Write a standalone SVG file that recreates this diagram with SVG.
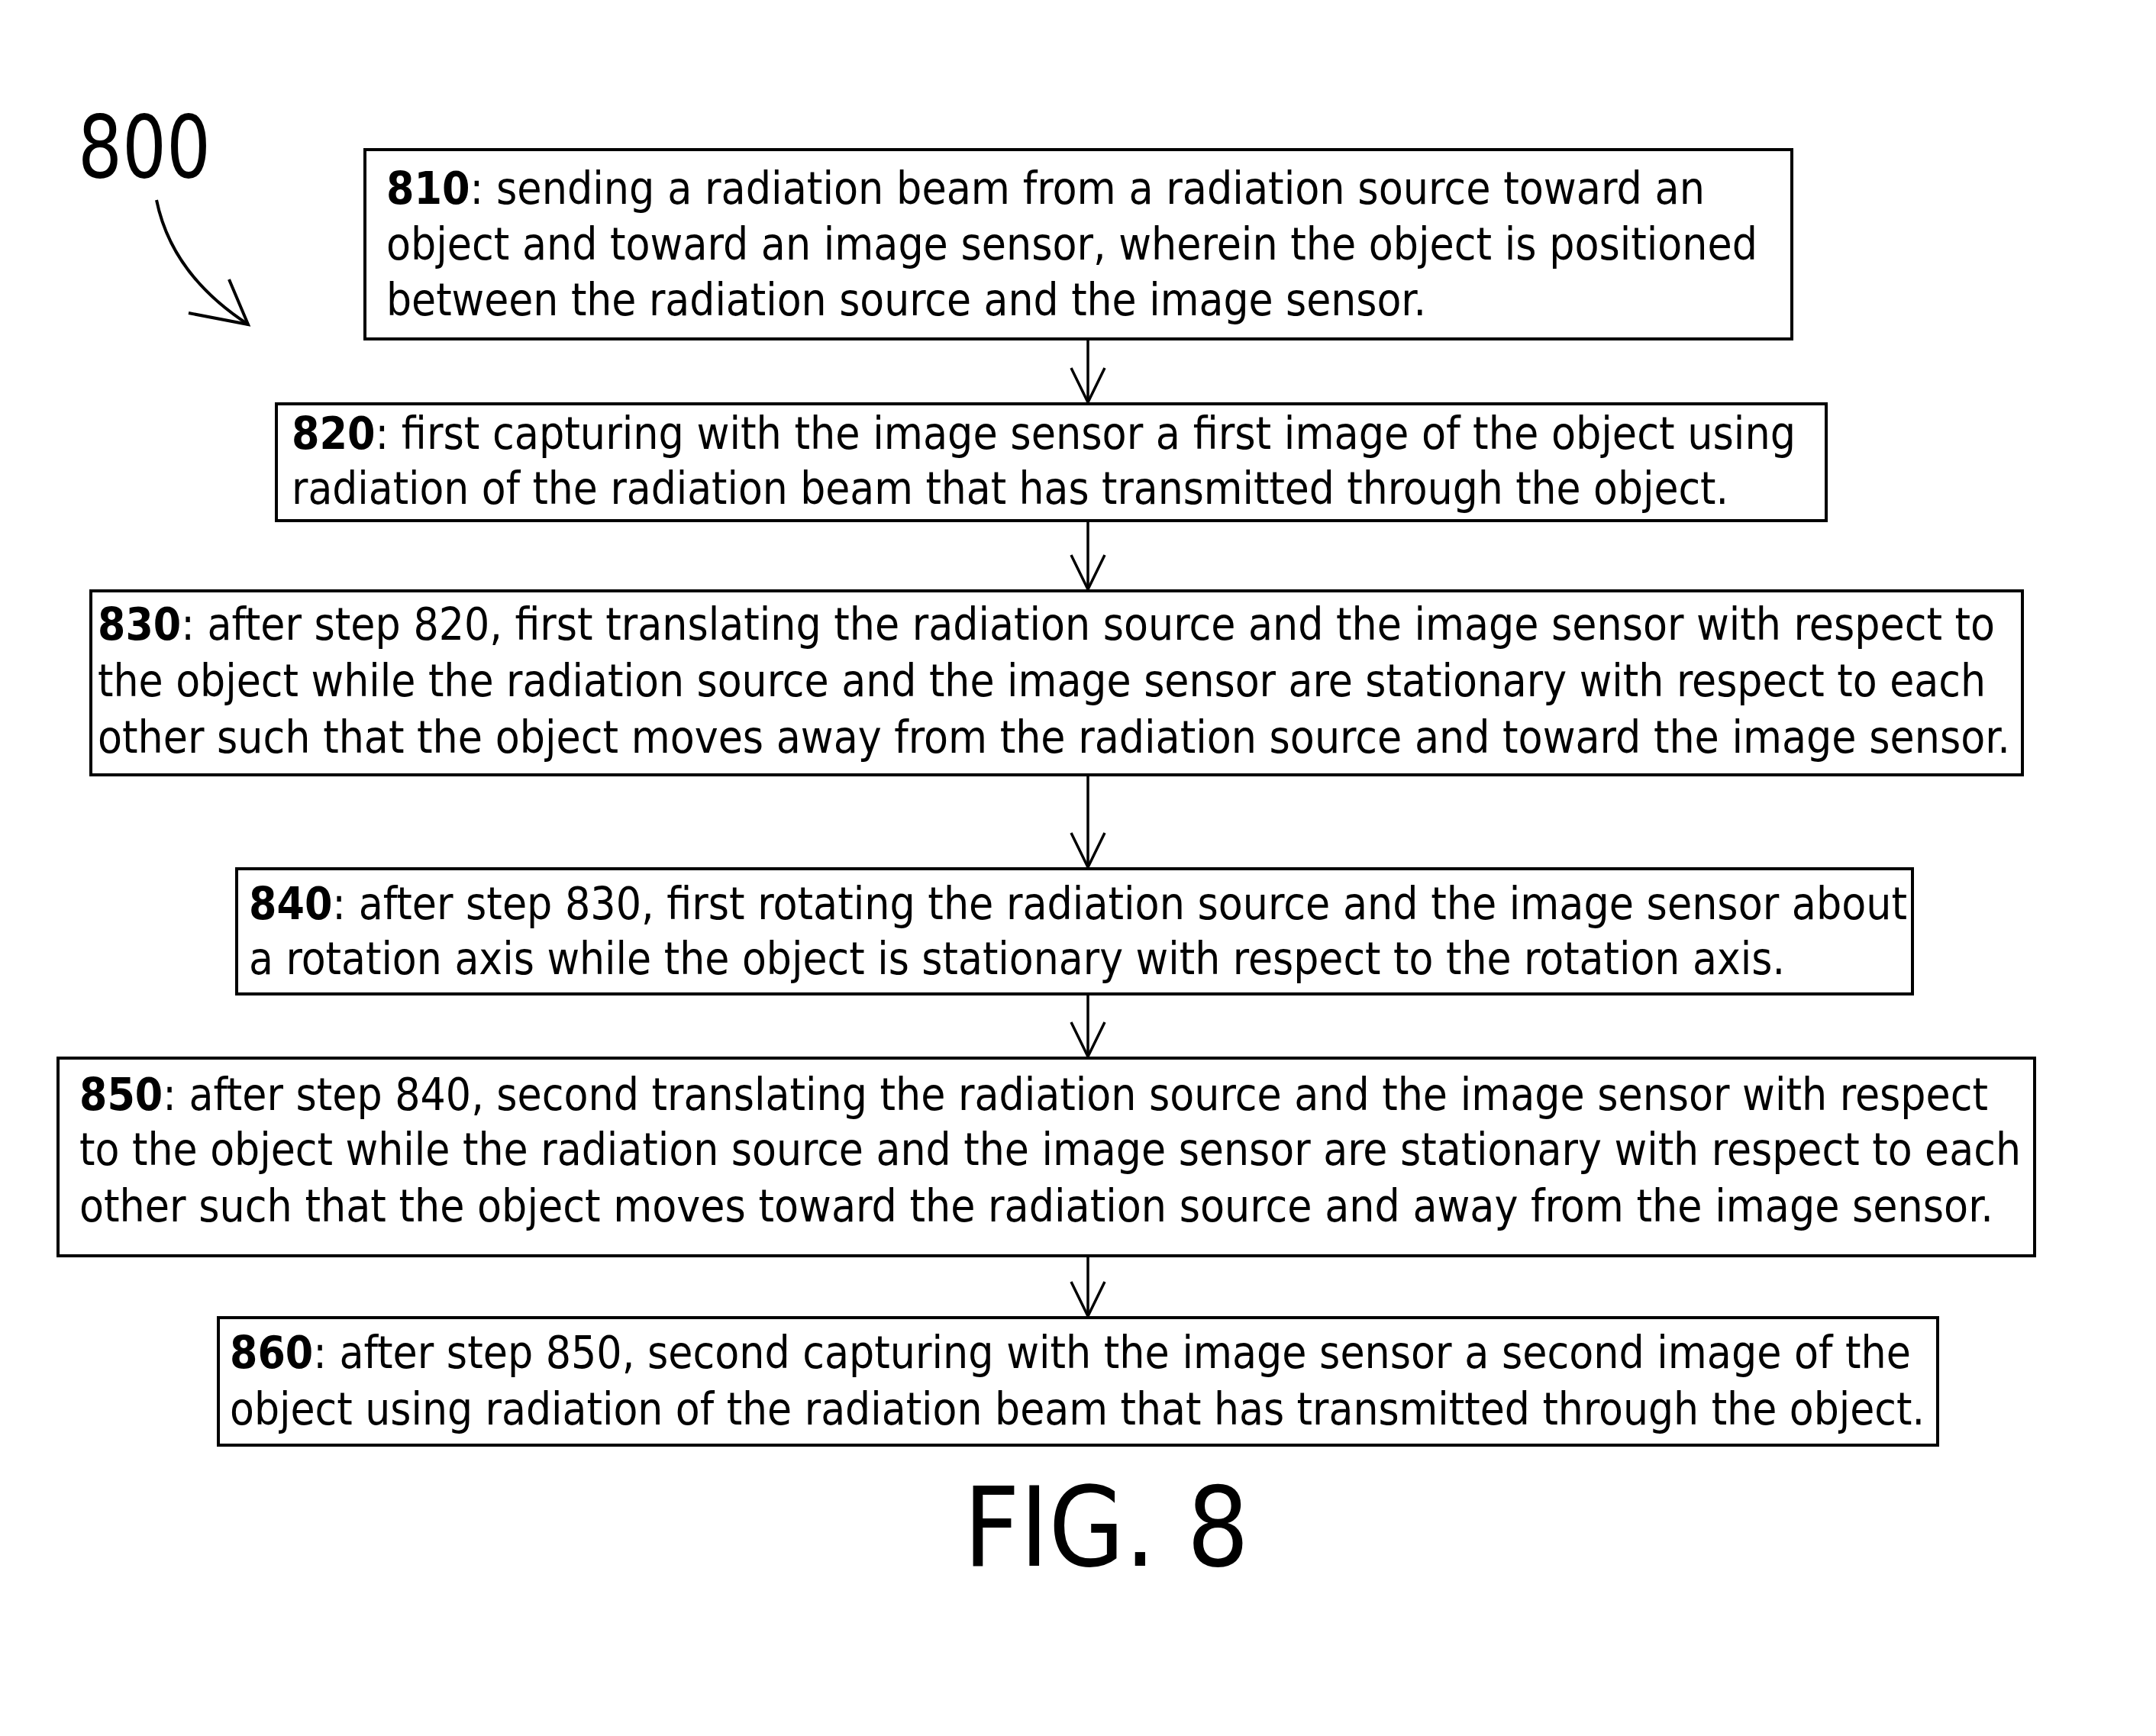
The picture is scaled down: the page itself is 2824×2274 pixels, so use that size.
<svg xmlns="http://www.w3.org/2000/svg" width="2824" height="2274" viewBox="0 0 2824 2274">
<defs>
<style>
.box{fill:#fff;stroke:#000;stroke-width:4}
.t{font-family:"DejaVu Sans Condensed","DejaVu Sans",sans-serif;font-stretch:condensed;font-size:58px;fill:#000}
.b{font-weight:bold}
.conn{stroke:#000;stroke-width:3.5;fill:none}
</style>
</defs>
<rect width="2824" height="2274" fill="#fff"/>

<g id="label800">
<text x="102" y="232" font-family="'DejaVu Sans Condensed','DejaVu Sans',sans-serif" font-stretch="condensed" font-size="114" textLength="174" lengthAdjust="spacingAndGlyphs">800</text>
<path d="M 205 262 Q 225 360 325 425" fill="none" stroke="#000" stroke-width="4"/>
<path d="M 247 410 L 325 425 L 300 366" fill="none" stroke="#000" stroke-width="4"/>
</g>

<g id="connectors">
<line class="conn" x1="1425" y1="443" x2="1425" y2="527"/>
<path class="conn" d="M 1403 482 L 1425 527 L 1447 482"/>
<line class="conn" x1="1425" y1="682" x2="1425" y2="772"/>
<path class="conn" d="M 1403 727 L 1425 772 L 1447 727"/>
<line class="conn" x1="1425" y1="1015" x2="1425" y2="1136"/>
<path class="conn" d="M 1403 1091 L 1425 1136 L 1447 1091"/>
<line class="conn" x1="1425" y1="1302" x2="1425" y2="1384"/>
<path class="conn" d="M 1403 1339 L 1425 1384 L 1447 1339"/>
<line class="conn" x1="1425" y1="1645" x2="1425" y2="1724"/>
<path class="conn" d="M 1403 1679 L 1425 1724 L 1447 1679"/>
</g>

<g id="n810">
<rect class="box" x="478" y="196" width="1869" height="248"/>
<text class="t" x="506" y="267" textLength="1727" lengthAdjust="spacingAndGlyphs"><tspan class="b">810</tspan>: sending a radiation beam from a radiation source toward an</text>
<text class="t" x="506" y="340" textLength="1796" lengthAdjust="spacingAndGlyphs">object and toward an image sensor, wherein the object is positioned</text>
<text class="t" x="506" y="413" textLength="1362" lengthAdjust="spacingAndGlyphs">between the radiation source and the image sensor.</text>
</g>

<g id="n820">
<rect class="box" x="362" y="529" width="2030" height="153"/>
<text class="t" x="382" y="588" textLength="1970" lengthAdjust="spacingAndGlyphs"><tspan class="b">820</tspan>: first capturing with the image sensor a first image of the object using</text>
<text class="t" x="382" y="660" textLength="1882" lengthAdjust="spacingAndGlyphs">radiation of the radiation beam that has transmitted through the object.</text>
</g>

<g id="n830">
<rect class="box" x="119" y="774" width="2530" height="241"/>
<text class="t" x="128" y="838" textLength="2485" lengthAdjust="spacingAndGlyphs"><tspan class="b">830</tspan>: after step 820, first translating the radiation source and the image sensor with respect to</text>
<text class="t" x="128" y="912" textLength="2473" lengthAdjust="spacingAndGlyphs">the object while the radiation source and the image sensor are stationary with respect to each</text>
<text class="t" x="128" y="986" textLength="2505" lengthAdjust="spacingAndGlyphs">other such that the object moves away from the radiation source and toward the image sensor.</text>
</g>

<g id="n840">
<rect class="box" x="310" y="1138" width="2195" height="164"/>
<text class="t" x="326" y="1204" textLength="2172" lengthAdjust="spacingAndGlyphs"><tspan class="b">840</tspan>: after step 830, first rotating the radiation source and the image sensor about</text>
<text class="t" x="326" y="1276" textLength="2012" lengthAdjust="spacingAndGlyphs">a rotation axis while the object is stationary with respect to the rotation axis.</text>
</g>

<g id="n850">
<rect class="box" x="76" y="1386" width="2589" height="259"/>
<text class="t" x="104" y="1454" textLength="2500" lengthAdjust="spacingAndGlyphs"><tspan class="b">850</tspan>: after step 840, second translating the radiation source and the image sensor with respect</text>
<text class="t" x="104" y="1526" textLength="2543" lengthAdjust="spacingAndGlyphs">to the object while the radiation source and the image sensor are stationary with respect to each</text>
<text class="t" x="104" y="1600" textLength="2507" lengthAdjust="spacingAndGlyphs">other such that the object moves toward the radiation source and away from the image sensor.</text>
</g>

<g id="n860">
<rect class="box" x="286" y="1726" width="2252" height="167"/>
<text class="t" x="301" y="1792" textLength="2202" lengthAdjust="spacingAndGlyphs"><tspan class="b">860</tspan>: after step 850, second capturing with the image sensor a second image of the</text>
<text class="t" x="301" y="1866" textLength="2220" lengthAdjust="spacingAndGlyphs">object using radiation of the radiation beam that has transmitted through the object.</text>
</g>

<g id="caption">
<text x="1262" y="2051" font-family="'DejaVu Sans Condensed','DejaVu Sans',sans-serif" font-stretch="condensed" font-size="144" textLength="374" lengthAdjust="spacingAndGlyphs">FIG. 8</text>
</g>
</svg>
